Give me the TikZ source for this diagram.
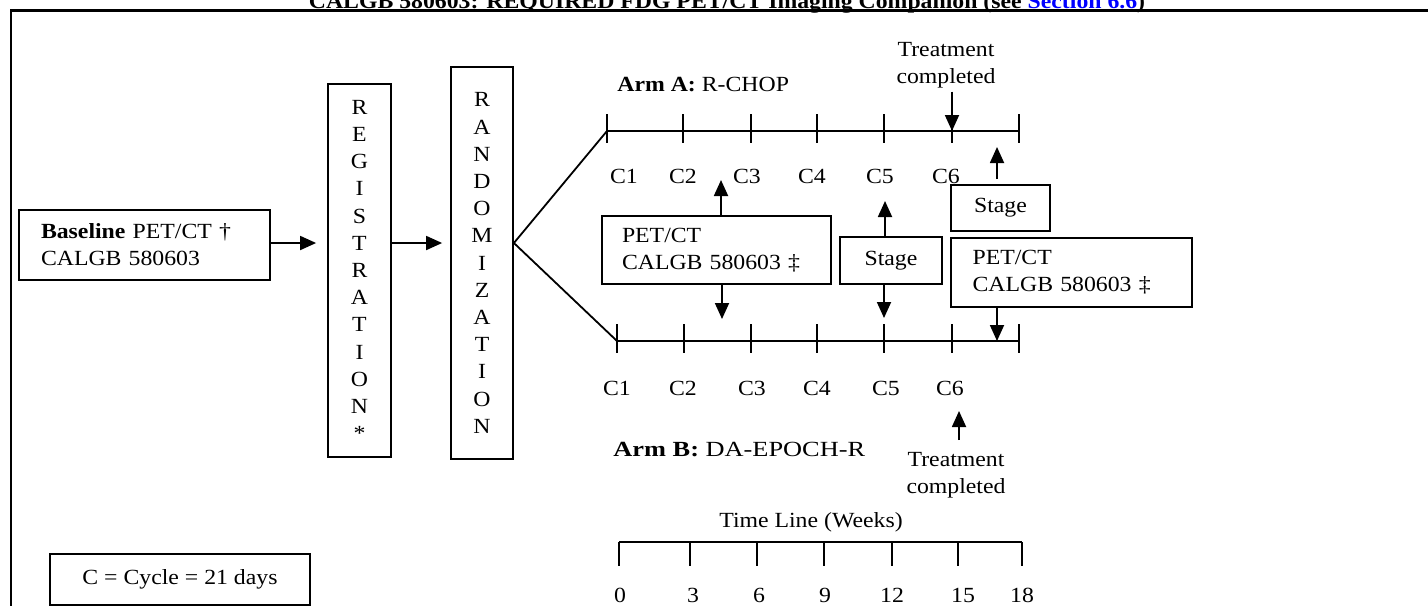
\documentclass[tikz,border=0pt]{standalone}
\usepackage{fontspec}
\setmainfont{Liberation Serif}[FakeStretch=1.1]
\newfontfamily\armbfont{Liberation Serif}[FakeStretch=1.22]
\usepackage{xcolor}
\usetikzlibrary{arrows.meta,positioning}

\begin{document}
\begin{tikzpicture}[
  x=0.5pt, y=-0.5pt,
  font=\fontsize{10.8}{13.6}\selectfont,
  pcbox/.style={draw=black, line width=0.9pt, inner sep=0pt},
  pctxt/.style={inner sep=0pt, anchor=base},
  pcarr/.style={-{Triangle[length=8pt,width=7pt]}, line width=0.9pt},
  pcline/.style={line width=0.9pt}
]
\useasboundingbox (0,0) rectangle (1428,606);

% heading and frame
\node[pctxt, font=\fontsize{10.8}{13.6}\selectfont\bfseries] (title) at (727,8) {CALGB 580603: REQUIRED FDG PET/CT Imaging Companion (see \textcolor{blue}{\underline{Section 6.6}})};
\draw[line width=1.3pt] (1428,10.5) -- (11,10.5) -- (11,606);

% entry and the two stacked boxes
\node[pcbox, minimum width=125.5pt, minimum height=35pt, text width=103.5pt, align=left] (base) at (144.5,245) {\textbf{Baseline} PET/CT †\\CALGB 580603};
\node[pcbox, minimum width=31.5pt, minimum height=186.5pt, align=center] (reg) at (359.5,270.5) {R\\E\\G\\I\\S\\T\\R\\A\\T\\I\\O\\N\\*};
\node[pcbox, minimum width=31pt, minimum height=196pt, align=center] (rand) at (482,263) {R\\A\\N\\D\\O\\M\\I\\Z\\A\\T\\I\\O\\N};
\coordinate (split) at (515,243);
\draw[pcarr, shorten >=5.5pt] (base.east |- split) -- (reg.west |- split);
\draw[pcarr, shorten >=4pt] (reg.east |- split) -- (rand.west |- split);

% arm lines
\foreach \x [count=\i] in {607,683,751,817,884,952,1019}
  \coordinate (a\i) at (\x,131);
\foreach \x [count=\i] in {617,684,751,817,884,952,1019}
  \coordinate (b\i) at (\x,341);
\draw[pcline] (a1) -- (a7);
\draw[pcline] (b1) -- (b7);
\foreach \i in {1,...,7} {
  \draw[pcline] (a\i) ++(0,-17) -- ++(0,29);
  \draw[pcline] (b\i) ++(0,-17) -- ++(0,29);
}
\draw[pcline] (rand.east |- split) -- (a1);
\draw[pcline] (rand.east |- split) -- (b1);
\foreach \x [count=\i] in {624,683,747,812,880,946}
  \node[pctxt] (ca\i) at (\x,183) {C\i};
\foreach \x [count=\i] in {617,683,752,817,886,950}
  \node[pctxt] (cb\i) at (\x,395) {C\i};
\node[pctxt, anchor=base west] (armA) at (617,91) {\textbf{Arm A:} R-CHOP};
\node[pctxt, anchor=base west] (armB) at (613,456) {\armbfont\textbf{Arm B:} DA-EPOCH-R};

% end of treatment
\node[inner sep=0pt, align=center, anchor=north] (tcA) at (946,42) {Treatment\\completed};
\draw[pcarr, shorten <=1.5pt] (tcA.south -| a6) -- (a6);
\node[inner sep=0pt, align=center, anchor=north] (tcB) at (956,452) {Treatment\\completed};
\coordinate (tcBtip) at (959,411);
\draw[pcarr, shorten <=6pt] (tcB.north -| tcBtip) -- (tcBtip);

% scans and staging
\node[pcbox, minimum width=114.5pt, minimum height=34pt, text width=94.5pt, align=left] (pet1) at (716.5,250) {PET/CT\\CALGB 580603 ‡};
\node[pcbox, minimum width=51pt, minimum height=23.5pt] (stg1) at (891,260.5) {Stage};
\node[pcbox, minimum width=49.5pt, minimum height=23pt] (stg2) at (1000.5,208) {Stage};
\node[pcbox, minimum width=120.5pt, minimum height=34.5pt, text width=98.9pt, align=left] (pet2) at (1071.5,272.5) {PET/CT\\CALGB 580603 ‡};
\coordinate (p1up) at (721,180);
\coordinate (p1dn) at (722,319);
\coordinate (s1up) at (885,201);
\coordinate (s1dn) at (884,318);
\coordinate (s2up) at (997,147);
\coordinate (p2dn) at (997,341);
\draw[pcarr] (pet1.north -| p1up) -- (p1up);
\draw[pcarr] (pet1.south -| p1dn) -- (p1dn);
\draw[pcarr] (stg1.north -| s1up) -- (s1up);
\draw[pcarr] (stg1.south -| s1dn) -- (s1dn);
\draw[pcarr, shorten <=2.5pt] (stg2.north -| s2up) -- (s2up);
\draw[pcarr] (pet2.south -| p2dn) -- (p2dn);

% weeks scale
\node[pctxt] (weeks) at (811,527) {Time Line (Weeks)};
\foreach \x [count=\i] in {619,690,757,824,892,958,1022}
  \coordinate (w\i) at (\x,542);
\draw[pcline] (w1) -- (w7);
\foreach \i in {1,...,7}
  \draw[pcline] (w\i) -- ++(0,24);
\foreach \x/\t in {620/0,693/3,759/6,825/9,892/12,963/15,1022/18}
  \node[pctxt] (wk\t) at (\x,602) {\t};

% legend
\node[pcbox, minimum width=130pt, minimum height=25.5pt] (legend) at (180,579.5) {C = Cycle = 21 days};
\end{tikzpicture}
\end{document}
